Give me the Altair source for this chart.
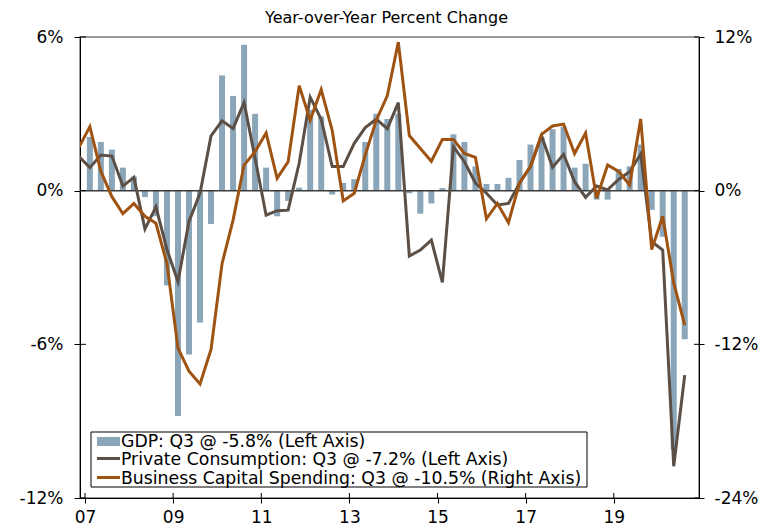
import altair as alt
import pandas as pd

# ---------------- data ----------------
years = list(range(2007, 2021))
quarters = [(y, q) for y in years for q in (1, 2, 3, 4)][:55]   # 2007Q1 .. 2020Q3

gdp = [2.1, 1.9, 1.6, 0.9, 0.55, -0.25, -1.0, -3.7,
       -8.8, -6.4, -5.15, -1.3, 4.5, 3.7, 5.7, 3.0,
       0.9, -1.0, -0.4, 0.12, 3.15, 2.9, -0.15, 0.3,
       0.45, 1.9, 3.0, 2.8, 3.0, -0.1, -0.9, -0.5,
       0.1, 2.2, 1.9, 0.95, 0.26, 0.26, 0.5, 1.2,
       1.8, 2.1, 2.4, 2.5, 0.9, 1.05, -0.35, -0.35,
       0.85, 0.95, 1.8, -0.75, -1.8, -10.1, -5.8]

# private consumption (left axis); first value is 2006Q4
consumption = [1.34,
               0.9, 1.39, 1.35, 0.18, 0.52, -1.5, -0.63, -2.3,
               -3.55, -1.2, -0.1, 2.14, 2.73, 2.43, 3.44, 1.26,
               -0.96, -0.78, -0.76, 1.07, 3.65, 2.79, 0.94, 0.94,
               1.85, 2.46, 2.79, 2.42, 3.44, -2.55, -2.32, -1.93,
               -3.58, 1.72, 1.13, 0.3, -0.1, -0.56, -0.5, 0.29,
               0.94, 2.14, 0.91, 1.42, 0.35, -0.26, 0.18, 0.03,
               0.44, 0.74, 1.43, -1.99, -2.32, -10.76, -7.2]

# business capital spending (right axis); first value is 2006Q4
capex = [3.36,
         5.0, 1.5, -0.47, -1.8, -1.0, -2.0, -2.55, -5.7,
         -12.3, -14.1, -15.1, -12.4, -5.7, -2.3, 2.0, 3.05,
         4.5, 0.96, 2.27, 8.2, 5.5, 7.9, 4.7, -0.8,
         -0.2, 2.8, 5.5, 7.4, 11.6, 4.3, 3.3, 2.3,
         4.0, 4.0, 2.9, 2.6, -2.2, -1.0, -2.5, 0.6,
         1.9, 4.4, 5.05, 5.2, 2.9, 4.5, -0.6, 2.0,
         1.5, 0.44, 5.6, -4.6, -2.0, -7.2, -10.5]

left_ticks = [-12, -6, 0, 6]
right_ticks = [-24, -12, 0, 12]
year_ticks = [2007, 2009, 2011, 2013, 2015, 2017, 2019]

subtitle = "Year-over-Year Percent Change"
legend_labels = ["GDP: Q3 @ -5.8% (Left Axis)",
                 "Private Consumption: Q3 @ -7.2% (Left Axis)",
                 "Business Capital Spending: Q3 @ -10.5% (Right Axis)"]

C_BAR = "#8CA6B9"
C_PC = "#5B4F46"
C_CAP = "#9E5312"
FONT = "DejaVu Sans"
AX_FS = 17

# ---------------- tables ----------------
def qpos(y, q):
    return y + (q - 1) * 0.25 + 0.11

df_bar = pd.DataFrame({"t": [qpos(y, q) for y, q in quarters], "gdp": gdp})
line_q = [(2006, 4)] + quarters
df_line = pd.DataFrame({"t": [qpos(y, q) for y, q in line_q],
                        "pc": consumption, "cap": capex})
df_lt = pd.DataFrame({"v": left_ticks})
df_xt = pd.DataFrame({"t": year_ticks})
df_one = pd.DataFrame({"a": [0]})

W, H = 619, 461

x_axis = alt.Axis(values=year_ticks,
                  labelExpr="substring(toString(datum.value), 2, 4)",
                  tickSize=5, labelPadding=6, domainColor="black",
                  tickColor="black", domainWidth=1, tickWidth=1,
                  grid=False, title=None, labelFontSize=AX_FS,
                  labelColor="black", labelFont=FONT, labelFlush=False)
x_scale = alt.Scale(domain=[2007, 2020.82], nice=False, zero=False)


def X(field="t"):
    return alt.X(f"{field}:Q", scale=x_scale, axis=x_axis)


yl_axis = alt.Axis(values=left_ticks, labelExpr="datum.value + '%'",
                   tickSize=6, labelPadding=11, domainColor="black",
                   tickColor="black", domainWidth=1, tickWidth=1,
                   grid=False, title=None, labelFontSize=AX_FS,
                   labelColor="black", labelFont=FONT, orient="left")
yl_scale = alt.Scale(domain=[-12, 6], nice=False)


def YL(field):
    return alt.Y(f"{field}:Q", scale=yl_scale, axis=yl_axis)


bars = alt.Chart(df_bar).mark_bar(size=6, color=C_BAR).encode(x=X(), y=YL("gdp"))
zero = alt.Chart(df_one).mark_rule(color="#3a3a3a", strokeWidth=1.5).encode(
    y=alt.datum(0, scale=yl_scale, axis=yl_axis))
pc_line = alt.Chart(df_line).mark_line(color=C_PC, strokeWidth=3, clip=True).encode(
    x=X(), y=YL("pc"))

tick_l = alt.Chart(df_lt).mark_rule(color="black").encode(
    y=YL("v"), x=alt.value(0), x2=alt.value(6))
tick_r = alt.Chart(df_lt).mark_rule(color="black").encode(
    y=YL("v"), x=alt.value(W - 5), x2=alt.value(W))
tick_b = alt.Chart(df_xt).mark_rule(color="black").encode(
    x=X(), y=alt.value(H - 5), y2=alt.value(H))

# legend (drawn by hand to mix a bar swatch and line swatches)
leg_box = alt.Chart(df_one).mark_rect(fill="white", stroke="black", strokeWidth=1).encode(
    x=alt.value(11), x2=alt.value(507), y=alt.value(395), y2=alt.value(450))
leg_sw = alt.Chart(df_one).mark_rect(color=C_BAR).encode(
    x=alt.value(17), x2=alt.value(40), y=alt.value(400), y2=alt.value(409))
leg_l1 = alt.Chart(df_one).mark_rule(color=C_PC, strokeWidth=3).encode(
    x=alt.value(17), x2=alt.value(40), y=alt.value(421.5))
leg_l2 = alt.Chart(df_one).mark_rule(color=C_CAP, strokeWidth=3).encode(
    x=alt.value(17), x2=alt.value(40), y=alt.value(440.5))
leg_texts = []
for lab, yy in zip(legend_labels, [404.5, 423, 441.5]):
    leg_texts.append(
        alt.Chart(df_one).mark_text(align="left", baseline="middle", fontSize=17.3,
                                    font=FONT, color="black", text=lab)
        .encode(x=alt.value(41), y=alt.value(yy)))

sub = alt.Chart(df_one).mark_text(align="center", baseline="middle", fontSize=16,
                                  font=FONT, color="black", text=subtitle).encode(
    x=alt.value(W / 2 - 3), y=alt.value(-19))

left = alt.layer(bars, zero, pc_line, tick_l, tick_r, tick_b,
                 leg_box, leg_sw, leg_l1, leg_l2, *leg_texts, sub)

yr_axis = alt.Axis(values=right_ticks, labelExpr="datum.value + '%'",
                   tickSize=5, labelPadding=10, domainColor="black",
                   tickColor="black", domainWidth=1, tickWidth=1,
                   grid=False, title=None, labelFontSize=AX_FS,
                   labelColor="black", labelFont=FONT, orient="right")
cap_line = alt.Chart(df_line).mark_line(color=C_CAP, strokeWidth=3, clip=True).encode(
    x=X(), y=alt.Y("cap:Q", scale=alt.Scale(domain=[-24, 12], nice=False), axis=yr_axis))

chart = (
    alt.layer(left, cap_line)
    .resolve_scale(y="independent")
    .properties(width=W, height=H,
                autosize=alt.AutoSizeParams(type="none"),
                padding={"left": 72, "top": 29, "right": 66, "bottom": 29})
    .configure(font=FONT)
    .configure_view(stroke="#7a7a7a", strokeWidth=1.5)
)

chart.save("out.html", embed_options={"renderer": "svg", "actions": False})
